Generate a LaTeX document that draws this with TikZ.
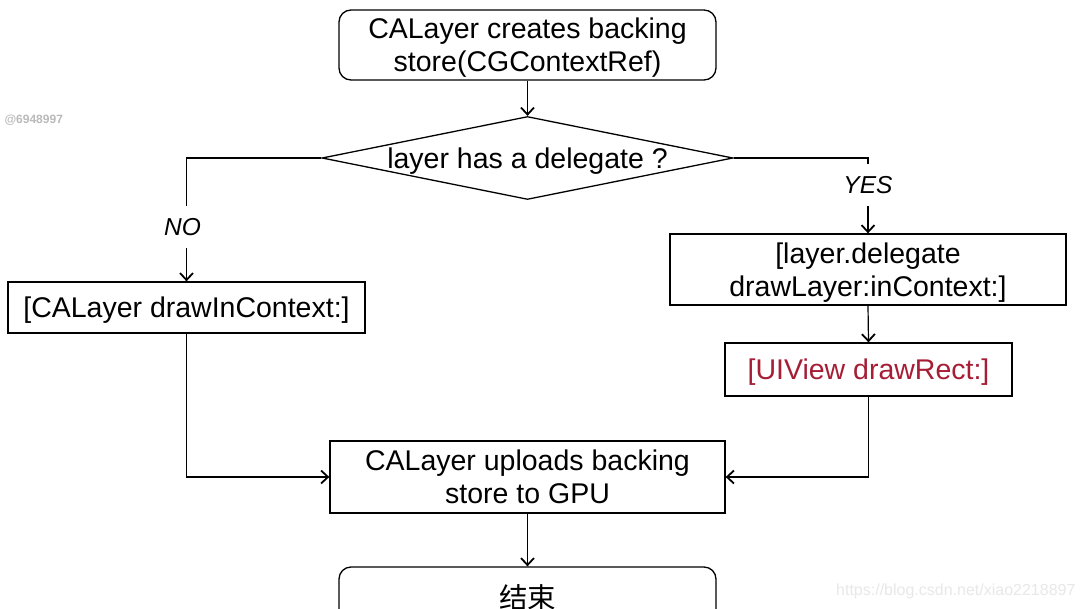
\documentclass[tikz,border=0pt]{standalone}
\usepackage{fontspec}
\setmainfont{Liberation Sans}
\newfontfamily\cjk{Noto Sans CJK SC}
\usetikzlibrary{arrows.meta,shapes.geometric}
\definecolor{lnk}{HTML}{A61E36}
\begin{document}
\begin{tikzpicture}[x=1pt,y=-1pt,
 box/.style={draw,line width=1.3pt,inner sep=0pt,align=center,text depth=-1.5pt,font=\fontsize{28.5}{33}\selectfont},
 rbox/.style={box,rounded corners=12pt},
 arr/.style={line width=1.2pt,-{Straight Barb[length=7pt,width=13pt,line width=1.8pt]}},
 lbl/.style={fill=white,font=\fontsize{24.5}{28}\selectfont\itshape,inner xsep=2pt,inner ysep=12pt}]
\useasboundingbox (0,0) rectangle (1087,608);
\clip (0,0) rectangle (1087,608);
\fill[white] (0,0) rectangle (1087,608);
\node[rbox,minimum width=377pt,minimum height=70pt] (s) at (527.5,45) {CALayer creates backing\\store(CGContextRef)};
\node[box,diamond,aspect=4.95,minimum width=411pt,minimum height=83pt] (d) at (527.5,158) {layer has a delegate ?};
\node[box,minimum width=357pt,minimum height=51pt] (l) at (186.5,307.5) {[CALayer drawInContext:]};
\node[box,minimum width=396pt,minimum height=71pt] (r1) at (868,269.5) {[layer.delegate\\drawLayer:inContext:]};
\node[box,minimum width=287pt,minimum height=53pt,text=lnk] (r2) at (868.5,369.5) {[UIView drawRect:]};
\node[box,minimum width=395pt,minimum height=72pt] (u) at (527.5,477) {CALayer uploads backing\\store to GPU};
\node[rbox,minimum width=377pt,minimum height=60pt] (e) at (527.5,597) {{\cjk 结束}};
\draw[arr] (s.south) -- (d.north);
\draw[arr] (d.west) -| node[lbl,pos=0.78,xshift=-4pt]{NO} (l.north);
\draw[arr] (d.east) -| node[lbl,pos=0.68]{YES} (r1.north);
\draw[arr] (r1.south) -- (r2.north);
\draw[arr] (l.south) |- (u.west);
\draw[arr] (r2.south) |- (u.east);
\draw[arr] (u.south) -- (e.north);
\node[text=black!27,font=\bfseries\fontsize{12}{14}\selectfont,anchor=west] (w1) at (1,120) {@6948997};
\node[text=black!9,font=\fontsize{16}{18}\selectfont,anchor=east] (w2) at (1079,591) {https://blog.csdn.net/xiao2218897};
\end{tikzpicture}
\end{document}
